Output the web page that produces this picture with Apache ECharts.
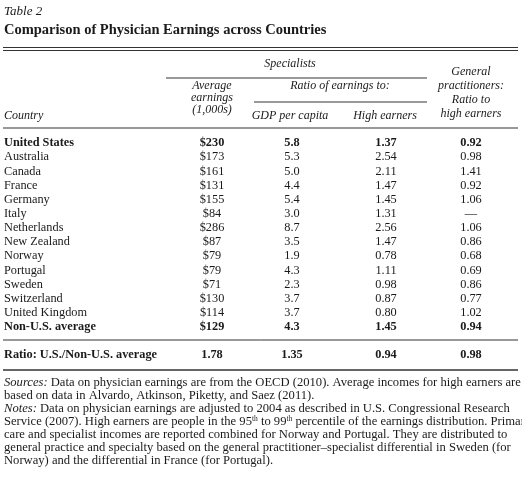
<!DOCTYPE html>
<html>
<head>
<meta charset="utf-8">
<script src="https://cdn.jsdelivr.net/npm/echarts@6/dist/echarts.min.js"></script>
<style>html,body{margin:0;padding:0;background:#fff}#main{width:522px;height:480px}</style>
</head>
<body>
<div id="main"></div>
<script>
var countries = ['United States','Australia','Canada','France','Germany','Italy','Netherlands','New Zealand','Norway','Portugal','Sweden','Switzerland','United Kingdom','Non-U.S. average'];
var avgEarnings = ['$230','$173','$161','$131','$155','$84','$286','$87','$79','$79','$71','$130','$114','$129'];
var gdpRatio = ['5.8','5.3','5.0','4.4','5.4','3.0','8.7','3.5','1.9','4.3','2.3','3.7','3.7','4.3'];
var highRatio = ['1.37','2.54','2.11','1.47','1.45','1.31','2.56','1.47','0.78','1.11','0.98','0.87','0.80','1.45'];
var gpRatio = ['0.92','0.98','1.41','0.92','1.06','\u2014','1.06','0.86','0.68','0.69','0.86','0.77','1.02','0.94'];
var boldRows = ['United States','Non-U.S. average'];
var ratioRow = ['Ratio: U.S./Non-U.S. average','1.78','1.35','0.94','0.98'];

var F = '"Liberation Serif","DejaVu Serif",serif';
var els = [];
function txt(x, y, s, o) {
  o = o || {};
  els.push({type: 'text', x: x, y: y, style: {
    text: s, font: (o.italic ? 'italic ' : '') + (o.bold ? 'bold ' : '') + (o.size || 12.3) + 'px ' + F,
    fill: '#1a1a1a', align: o.align || 'left', verticalAlign: 'middle', rich: o.rich
  }});
}
function rule(x1, x2, y, w) {
  els.push({type: 'line', shape: {x1: x1, y1: y, x2: x2, y2: y}, style: {stroke: '#333', lineWidth: w || 1}});
}

txt(4, 12, 'Table 2', {italic: true, size: 13});
txt(4, 30, 'Comparison of Physician Earnings across Countries', {bold: true, size: 14.5});
rule(3, 518, 47.5, 1.2);
rule(3, 518, 50.5, 1.2);

var H = 12;
txt(290, 64, 'Specialists', {italic: true, size: H, align: 'center'});
rule(166, 427, 78);
['General', 'practitioners:', 'Ratio to', 'high earners'].forEach(function (s, i) { txt(471, 72 + i * 14, s, {italic: true, size: H, align: 'center'}); });
['Average', 'earnings', '(1,000s)'].forEach(function (s, i) { txt(212, 86 + i * 12, s, {italic: true, size: H, align: 'center'}); });
txt(340, 86, 'Ratio of earnings to:', {italic: true, size: H, align: 'center'});
rule(254, 427, 102);
txt(290, 116, 'GDP per capita', {italic: true, size: H, align: 'center'});
txt(385, 116, 'High earners', {italic: true, size: H, align: 'center'});
txt(4, 116, 'Country', {italic: true, size: H});
rule(3, 518, 128, 1.2);

var colX = [212, 292, 386, 471];
countries.forEach(function (c, i) {
  var y = 143 + i * 14.15;
  var b = boldRows.indexOf(c) >= 0;
  txt(4, y, c, {bold: b});
  [avgEarnings[i], gdpRatio[i], highRatio[i], gpRatio[i]].forEach(function (v, j) {
    txt(colX[j], y, v, {bold: b, align: 'center'});
  });
});
rule(3, 518, 340);
txt(4, 355, ratioRow[0], {bold: true});
for (var j = 1; j < 5; j++) txt(colX[j - 1], 355, ratioRow[j], {bold: true, align: 'center'});
rule(3, 518, 370, 1.5);

var N = 12.6;
var sup = {s: {font: '7.5px ' + F, fill: '#1a1a1a', verticalAlign: 'top', padding: [0, 0, 5, 0]}, i: {font: 'italic ' + N + 'px ' + F, fill: '#1a1a1a'}};
var notes = [
  '{i|Sources:} Data on physician earnings are from the OECD (2010). Average incomes for high earners are',
  'based on data in Alvardo, Atkinson, Piketty, and Saez (2011).',
  '{i|Notes:} Data on physician earnings are adjusted to 2004 as described in U.S. Congressional Research',
  'Service (2007). High earners are people in the 95{s|th} to 99{s|th} percentile of the earnings distribution. Primary',
  'care and specialist incomes are reported combined for Norway and Portugal. They are distributed to',
  'general practice and specialty based on the general practitioner\u2013specialist differential in Sweden (for',
  'Norway) and the differential in France (for Portugal).'
];
notes.forEach(function (s, i) { txt(4, 383 + i * 13, s, {size: N, rich: sup}); });

var chart = echarts.init(document.getElementById('main'));
chart.setOption({graphic: {elements: els}});
</script>
</body>
</html>
